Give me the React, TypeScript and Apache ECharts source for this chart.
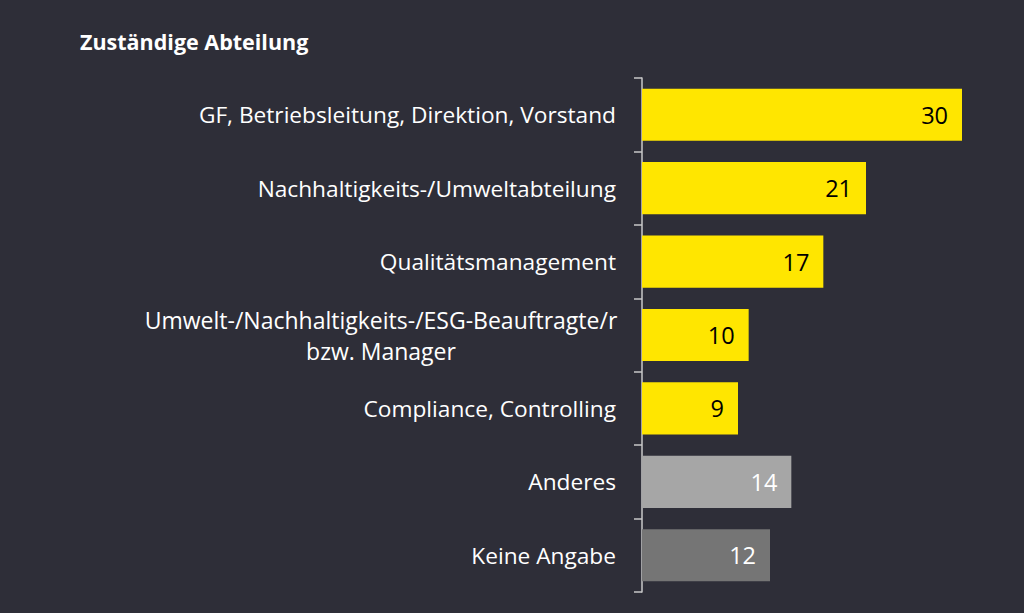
import React, { useEffect, useRef } from "react";
import * as echarts from "echarts";

const categories = [
  "GF, Betriebsleitung, Direktion, Vorstand",
  "Nachhaltigkeits-/Umweltabteilung",
  "Qualitätsmanagement",
  "Umwelt-/Nachhaltigkeits-/ESG-Beauftragte/r\nbzw. Manager",
  "Compliance, Controlling",
  "Anderes",
  "Keine Angabe",
];
const values = [30, 21, 17, 10, 9, 14, 12];
const title = "Zuständige Abteilung";

const BG = "#2E2E38";
const barColors = ["#FFE600", "#FFE600", "#FFE600", "#FFE600", "#FFE600", "#A6A6A6", "#757575"];
const labelColors = ["#000000", "#000000", "#000000", "#000000", "#000000", "#FFFFFF", "#FFFFFF"];
const FONT = "'Open Sans', sans-serif";

export default function App() {
  const ref = useRef<HTMLDivElement>(null);
  useEffect(() => {
    if (!ref.current) return;
    const chart = echarts.init(ref.current, null, { renderer: "svg" });
    chart.setOption({
      animation: false,
      backgroundColor: BG,
      title: {
        text: title,
        left: 75,
        top: 25,
        textStyle: { color: "#FFFFFF", fontFamily: FONT, fontWeight: "bold", fontSize: 21.5 },
      },
      grid: { left: 642, right: 62, top: 78, bottom: 21, containLabel: false },
      xAxis: {
        type: "value",
        min: 0,
        max: 30,
        show: false,
      },
      yAxis: {
        type: "category",
        data: categories,
        inverse: true,
        axisLine: { show: true, lineStyle: { color: "#C8C8C8", width: 1.5 } },
        axisTick: { show: true, length: 8, lineStyle: { color: "#C8C8C8", width: 1.5 } },
        axisLabel: {
          color: "#FFFFFF",
          fontFamily: FONT,
          fontSize: 22.7,
          margin: 26,
          lineHeight: 30,
          formatter: (v: string) => {
            if (v.indexOf("\n") >= 0) {
              return v
                .split("\n")
                .map((s) => "{c|" + s + "}")
                .join("\n");
            }
            return v;
          },
          rich: {
            c: {
              width: 470,
              align: "center",
              color: "#FFFFFF",
              fontFamily: FONT,
              fontSize: 23,
              lineHeight: 31,
            },
          },
        },
        splitLine: { show: false },
      },
      series: [
        {
          type: "bar",
          data: values.map((v, i) => ({
            value: v,
            itemStyle: { color: barColors[i] },
            label: { color: labelColors[i] },
          })),
          barCategoryGap: "29%",
          label: {
            show: true,
            position: "insideRight",
            distance: 14,
            fontFamily: FONT,
            fontSize: 23.5,
          },
        },
      ],
    });
    return () => chart.dispose();
  }, []);
  return (
    <div
      ref={ref}
      style={{ position: "fixed", left: 0, top: 0, width: 1024, height: 613, background: BG }}
    />
  );
}
